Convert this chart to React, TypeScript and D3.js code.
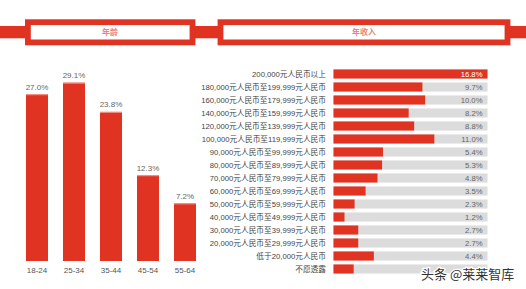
import React from "react";
import * as d3 from "d3";

const ageCats = ["18-24", "25-34", "35-44", "45-54", "55-64"];
const ageValues = [27.0, 29.1, 23.8, 12.3, 7.2];
const ageLabels = ["27.0%", "29.1%", "23.8%", "12.3%", "7.2%"];

const incomeCats = [
  "200,000元人民币以上",
  "180,000元人民币至199,999元人民币",
  "160,000元人民币至179,999元人民币",
  "140,000元人民币至159,999元人民币",
  "120,000元人民币至139,999元人民币",
  "100,000元人民币至119,999元人民币",
  "90,000元人民币至99,999元人民币",
  "80,000元人民币至89,999元人民币",
  "70,000元人民币至79,999元人民币",
  "60,000元人民币至69,999元人民币",
  "50,000元人民币至59,999元人民币",
  "40,000元人民币至49,999元人民币",
  "30,000元人民币至39,999元人民币",
  "20,000元人民币至29,999元人民币",
  "低于20,000元人民币",
  "不愿透露",
];
const incomeValues = [16.8, 9.7, 10.0, 8.2, 8.8, 11.0, 5.4, 5.3, 4.8, 3.5, 2.3, 1.2, 2.7, 2.7, 4.4, 2.2];
const incomeLabels = ["16.8%", "9.7%", "10.0%", "8.2%", "8.8%", "11.0%", "5.4%", "5.3%", "4.8%", "3.5%", "2.3%", "1.2%", "2.7%", "2.7%", "4.4%", ""];

const titles = ["年龄", "年收入"];

const RED = "#e03322";
const TRACK = "#dcdcdc";
const FONT = "'Liberation Sans', Arial, 'Noto Sans CJK SC', sans-serif";

export default function App() {
  const W = 526, H = 289;

  const ax = d3.scaleBand<string>().domain(ageCats).range([18.5, 203.5]).paddingInner(0.405).paddingOuter(0.2025);
  const ay = d3.scaleLinear().domain([-3.27, 30]).range([261, 77.7]);

  const iy = d3.scaleBand<string>().domain(incomeCats).range([67.5, 275.5]).paddingInner(0.3).paddingOuter(0.15);
  const ix = d3.scaleLinear().domain([0, 16.8]).range([333.5, 487.5]);

  return (
    <svg width={W} height={H} style={{ position: "absolute", left: 0, top: 0, background: "#fff" }} fontFamily={FONT}>
      <rect x={0} y={0} width={W} height={H} fill="#fff" />
      {/* header band */}
      <rect x={0} y={26} width={W} height={12.3} fill={RED} />
      <rect x={27.9} y={22.2} width={164.6} height={20.2} fill="#fff" stroke={RED} strokeWidth={5.8} />
      <rect x={220.5} y={22.2} width={287} height={20.2} fill="#fff" stroke={RED} strokeWidth={5.8} />
      <text x={110} y={35} textAnchor="middle" fontSize={8} fontWeight="bold" fill="#ee8378">{titles[0]}</text>
      <text x={364} y={35} textAnchor="middle" fontSize={8} fontWeight="bold" fill="#ee8378">{titles[1]}</text>

      {/* age bars */}
      {ageCats.map((c, i) => (
        <g key={c}>
          <rect x={ax(c)} y={ay(ageValues[i])} width={ax.bandwidth()} height={ay(-3.27) - ay(ageValues[i])} fill={RED} />
          <line x1={ax(c)} x2={(ax(c) as number) + ax.bandwidth()} y1={ay(ageValues[i]) + 0.5} y2={ay(ageValues[i]) + 0.5} stroke="#f29a90" strokeWidth={1} />
          <text x={(ax(c) as number) + ax.bandwidth() / 2} y={ay(ageValues[i]) - 4.5} textAnchor="middle" fontSize={8} fill="#666">{ageLabels[i]}</text>
          <text x={(ax(c) as number) + ax.bandwidth() / 2} y={273} textAnchor="middle" fontSize={8} fill="#555">{c}</text>
        </g>
      ))}

      {/* income bars */}
      {incomeCats.map((c, i) => {
        const y0 = iy(c) as number;
        const bw = iy.bandwidth();
        return (
          <g key={c}>
            <rect x={ix(0)} y={y0} width={ix(16.8) - ix(0)} height={bw} fill={TRACK} />
            <rect x={ix(0)} y={y0} width={ix(incomeValues[i]) - ix(0)} height={bw} fill={RED} />
            <text x={326} y={y0 + bw / 2 + 2.8} textAnchor="end" fontSize={7.7} fill="#444">{c}</text>
            {incomeLabels[i] && (
              <text x={482.5} y={y0 + bw / 2 + 2.8} textAnchor="end" fontSize={7.7} fill={i === 0 ? "#fff" : "#666"}>{incomeLabels[i]}</text>
            )}
          </g>
        );
      })}

      {/* watermark */}
      <text x={421} y={279} fontSize={13} fill="#333" stroke="#fff" strokeWidth={2.5} paintOrder="stroke" fontFamily="'Noto Sans CJK SC', sans-serif">头条 @莱莱智库</text>
    </svg>
  );
}
